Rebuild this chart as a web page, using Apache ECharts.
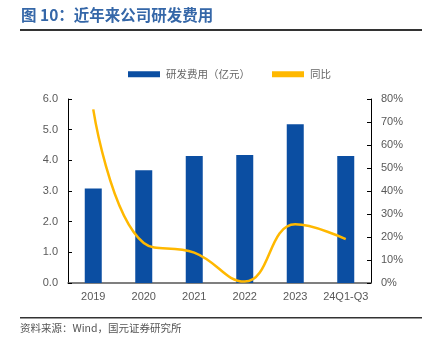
<!DOCTYPE html>
<html><head><meta charset="utf-8">
<script src="https://cdn.jsdelivr.net/npm/echarts@6/dist/echarts.min.js"></script>
<style>html,body{margin:0;padding:0;background:#fff}#c{width:436px;height:347px}</style>
</head><body><div id="c"></div>
<script>
const categories = ['2019','2020','2021','2022','2023','24Q1-Q3'];
const rdExpense = [3.08, 3.68, 4.14, 4.17, 5.18, 4.14];
const yoy = [75.5, 17.4, 13.2, 0.6, 25.5, 19.1];
const leftTicks = {min:0, max:6, interval:1};
const rightTicks = {min:0, max:80, interval:10};

const chart = echarts.init(document.getElementById('c'));
const font = '"Liberation Sans", Arial, sans-serif';
const cjk = '"Noto Sans CJK SC", sans-serif';
chart.setOption({
  animation:false,
  graphic:[
    {type:'text', left:21, top:7, style:{text:'图 10：近年来公司研发费用', fill:'#3567A8', font:'bold 15.5px "Noto Sans CJK SC", sans-serif'}},
    {type:'rect', shape:{x:20, y:29, width:402, height:2}, style:{fill:'#333'}},
    {type:'rect', shape:{x:20, y:317, width:402, height:1.5}, style:{fill:'#333'}},
    {type:'text', left:20, top:323, style:{text:'资料来源：Wind，国元证券研究所', fill:'#555', font:'10.5px "Noto Sans CJK SC", sans-serif'}}
  ],
  legend:{
    top:64, left:123, itemGap:22, itemWidth:32, itemHeight:6,
    textStyle:{color:'#666', fontSize:10.5, fontFamily:cjk, padding:[0,0,0,1]},
    data:[{name:'研发费用（亿元）', icon:'rect'},{name:'同比', icon:'rect'}]
  },
  grid:{left:68, right:65, top:99, bottom:64},
  xAxis:{
    type:'category', data:categories,
    axisLine:{lineStyle:{color:'#555', width:1.5}},
    axisTick:{inside:true, length:4, lineStyle:{color:'#333'}},
    axisLabel:{color:'#595959', fontSize:11, fontFamily:font, margin:8, interval:0}
  },
  yAxis:[
    {type:'value', min:leftTicks.min, max:leftTicks.max, interval:leftTicks.interval,
     axisLine:{show:true, lineStyle:{color:'#000'}},
     axisTick:{show:true, inside:true, length:4, lineStyle:{color:'#000'}},
     splitLine:{show:false},
     axisLabel:{color:'#595959', fontSize:11, fontFamily:font, margin:10, formatter:v=>v.toFixed(1)}},
    {type:'value', min:rightTicks.min, max:rightTicks.max, interval:rightTicks.interval,
     axisLine:{show:true, lineStyle:{color:'#000'}},
     axisTick:{show:true, inside:true, length:4, lineStyle:{color:'#000'}},
     splitLine:{show:false},
     axisLabel:{color:'#595959', fontSize:11, fontFamily:font, margin:10, formatter:v=>v+'%'}}
  ],
  series:[
    {name:'研发费用（亿元）', type:'bar', data:rdExpense, barWidth:17, itemStyle:{color:'#0B4EA2'}},
    {name:'同比', type:'line', yAxisIndex:1, data:yoy, smooth:0.45, showSymbol:false, symbol:'none',
     lineStyle:{color:'#FFB800', width:2.5}, itemStyle:{color:'#FFB800'}}
  ]
});
</script></body></html>
